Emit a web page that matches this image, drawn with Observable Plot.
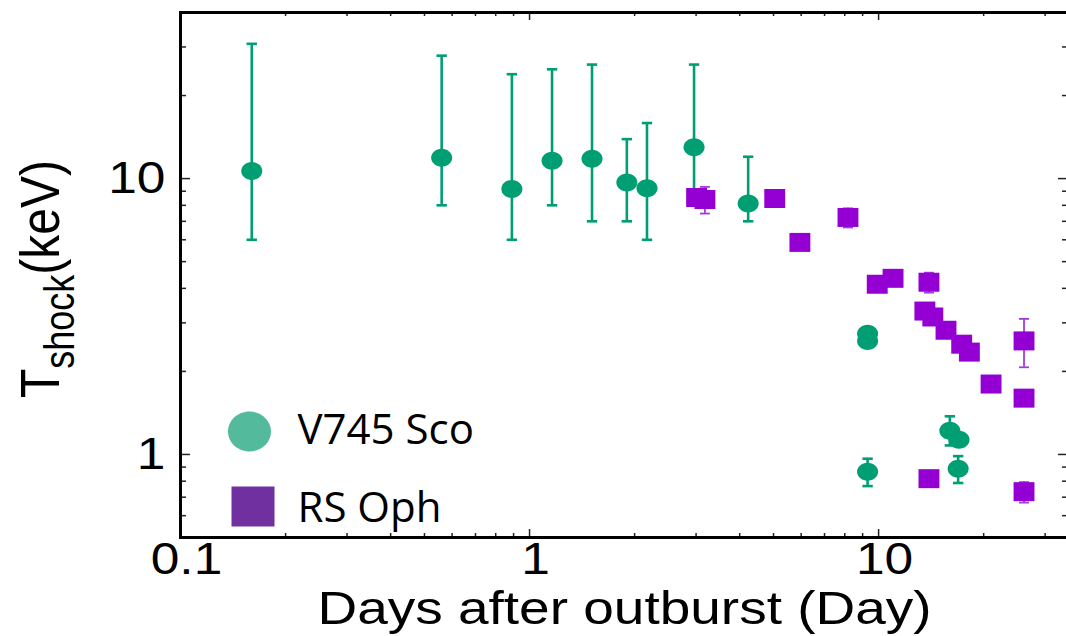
<!DOCTYPE html>
<html><head><meta charset="utf-8">
<script src="https://cdn.jsdelivr.net/npm/d3@7"></script>
<script src="https://cdn.jsdelivr.net/npm/@observablehq/plot@0.6"></script>
<style>html,body{margin:0;padding:0;background:#fff;overflow:hidden}#chart svg{display:block}</style>
</head><body><div id="chart"></div>
<script>
// ---- data ----
const scoDays = [0.16, 0.56, 0.89, 1.16, 1.51, 1.90, 2.17, 2.96, 4.23, 9.3, 9.3, 9.3, 16.0, 17.0, 16.9];
const scoT    = [10.65, 11.9, 9.17, 11.6, 11.8, 9.67, 9.22, 13.0, 8.12, 2.74, 2.58, 0.866, 1.22, 1.13, 0.888];
const scoLo   = [6.0, 8.0, 6.0, 8.0, 7.0, 7.0, 6.0, 8.6, 7.0, null, null, 0.768, 1.078, null, 0.788];
const scoHi   = [30.8, 27.9, 23.9, 24.9, 25.9, 13.9, 15.9, 25.9, 12.0, null, null, 0.965, 1.375, null, 0.986];

const ophDays = [3.01, 3.18, 5.04, 5.95, 8.17, 9.91, 11.0, 13.94, 13.57, 14.3, 15.6, 17.3, 18.2, 21.0, 26.1, 26.1, 13.94, 26.1];
const ophT    = [8.54, 8.40, 8.47, 5.87, 7.23, 4.14, 4.35, 4.21, 3.31, 3.15, 2.82, 2.51, 2.35, 1.80, 2.58, 1.60, 0.817, 0.733];
const ophLo   = [null, 7.47, null, null, 6.65, null, null, 3.86, null, null, null, null, null, null, 2.07, null, null, 0.669];
const ophHi   = [null, 9.33, null, null, 7.8, null, null, 4.56, null, null, null, null, null, null, 3.10, null, null, 0.794];

const seriesNames = ["V745 Sco", "RS Oph"];
const xMajor = [0.1, 1, 10];
const xMinor = [0.2,0.3,0.4,0.5,0.6,0.7,0.8,0.9,2,3,4,5,6,7,8,9,20,30];
const yMajor = [1, 10];
const yMinor = [0.6,0.7,0.8,0.9,2,3,4,5,6,7,8,9,20,30];
const xTitle = "Days after outburst (Day)";
const yTitleMain = "T", yTitleSub = "shock", yTitleUnit = "(keV)";

// ---- styling ----
const green = "#009E73", purple = "#9400D3", purpleErr = "#a13de0";
const legendGreen = "#53BA9B", legendPurple = "#7030A0";
const W = 1066, H = 636, mL = 180, mT = 12, mR = -2, mB = 99;
const plotW = W - mL - mR, plotH = H - mT - mB;
const SX = 1.17; // horizontal stretch of the reference's text

function ellipseSymbol(k){return {draw(ctx,size){const r=Math.sqrt(size/Math.PI),a=r*k,b=r,c=0.5523;
  ctx.moveTo(a,0);ctx.bezierCurveTo(a,c*b,c*a,b,0,b);ctx.bezierCurveTo(-c*a,b,-a,c*b,-a,0);
  ctx.bezierCurveTo(-a,-c*b,-c*a,-b,0,-b);ctx.bezierCurveTo(c*a,-b,a,-c*b,a,0);ctx.closePath();}};}
function rectSymbol(k){return {draw(ctx,size){const r=Math.sqrt(size/Math.PI),a=r*k;ctx.rect(-a,-r,2*a,2*r);}};}
const capSymbol = {draw(ctx,size){const r=Math.sqrt(size/Math.PI);ctx.moveTo(-r,0);ctx.lineTo(r,0);}};

const sco = scoDays.map((d,i)=>({x:d, t:scoT[i], lo:scoLo[i], hi:scoHi[i]}));
const oph = ophDays.map((d,i)=>({x:d, t:ophT[i], lo:ophLo[i], hi:ophHi[i]}));
const scoE = sco.filter(d=>d.lo!=null), ophE = oph.filter(d=>d.lo!=null);

const tickStyle = {stroke:"#222", strokeWidth:1.5};
const chart = Plot.plot({
  width: W, height: H,
  marginLeft: mL, marginTop: mT, marginRight: mR, marginBottom: mB,
  x: {type:"log", domain:[0.1, 35]},
  y: {type:"log", domain:[0.5, 40]},
  style: {background:"#fff", fontFamily:"'Liberation Sans', Arial, sans-serif", color:"#000"},
  marks: [
    // minor / major ticks, all pointing inward on four sides
    Plot.tickX(xMajor, {insetTop: plotH-8, ...tickStyle}),
    Plot.tickX(xMinor, {insetTop: plotH-4, ...tickStyle}),
    Plot.tickX(xMajor, {insetBottom: plotH-8, ...tickStyle}),
    Plot.tickX(xMinor, {insetBottom: plotH-4, ...tickStyle}),
    Plot.tickY(yMajor, {insetRight: plotW-10, ...tickStyle}),
    Plot.tickY(yMinor, {insetRight: plotW-6, ...tickStyle}),
    Plot.tickY(yMajor, {insetLeft: plotW-10, ...tickStyle}),
    Plot.tickY(yMinor, {insetLeft: plotW-6, ...tickStyle}),
    Plot.axisX(xMajor, {tickSize:0, tickPadding:5, fontSize:44, dx:6, label:null, tickFormat:d=>String(d), fill:"#000"}),
    Plot.axisY(yMajor, {tickSize:0, tickPadding:15, fontSize:44, label:null, tickFormat:d=>String(d), fill:"#000"}),
    // V745 Sco
    Plot.ruleX(scoE, {x:"x", y1:"lo", y2:"hi", stroke:green, strokeWidth:2.6}),
    Plot.dot(scoE, {x:"x", y:"lo", symbol:capSymbol, r:5.2, fill:"none", stroke:green, strokeWidth:2.6}),
    Plot.dot(scoE, {x:"x", y:"hi", symbol:capSymbol, r:5.2, fill:"none", stroke:green, strokeWidth:2.6}),
    Plot.dot(sco, {x:"x", y:"t", symbol:ellipseSymbol(1.17), r:9, fill:green}),
    // RS Oph
    Plot.ruleX(ophE, {x:"x", y1:"lo", y2:"hi", stroke:purpleErr, strokeWidth:1.8}),
    Plot.dot(ophE, {x:"x", y:"lo", symbol:capSymbol, r:5, fill:"none", stroke:purpleErr, strokeWidth:1.8}),
    Plot.dot(ophE, {x:"x", y:"hi", symbol:capSymbol, r:5, fill:"none", stroke:purpleErr, strokeWidth:1.8}),
    Plot.dot(oph, {x:"x", y:"t", symbol:rectSymbol(1.1), r:9.5, fill:purple}),
    // frame
    Plot.frame({stroke:"#000", strokeWidth:3}),
    // legend
    Plot.dot([seriesNames[0]], {frameAnchor:"bottom-left", dx:69, dy:-106, symbol:ellipseSymbol(1.075), r:20, fill:legendGreen}),
    Plot.dot([seriesNames[1]], {frameAnchor:"bottom-left", dx:72.5, dy:-31, symbol:rectSymbol(1.075), r:20, fill:legendPurple}),
    Plot.text([seriesNames[0]], {frameAnchor:"bottom-left", dx:117, dy:-94, text:d=>d, textAnchor:"start", lineAnchor:"bottom", fontFamily:"Open Sans", fontSize:42, fill:"#000"}),
    Plot.text([seriesNames[1]], {frameAnchor:"bottom-left", dx:117, dy:-16, text:d=>d, textAnchor:"start", lineAnchor:"bottom", fontFamily:"Open Sans", fontSize:42, fill:"#000"}),
    // axis titles
    Plot.text([xTitle], {frameAnchor:"bottom", dy:53, text:d=>d, lineAnchor:"top", fontSize:47, fill:"#000"}),
    Plot.text([yTitleMain + yTitleSub + yTitleUnit], {frameAnchor:"left", dx:-122, dy:4, text:d=>d, rotate:-90, textAnchor:"middle", lineAnchor:"bottom", fontSize:48, fill:"#000"})
  ]
});
document.getElementById("chart").appendChild(chart);

// stretch Helvetica-like texts horizontally as in the reference; build the subscripted y title
chart.querySelectorAll("text").forEach(t => {
  const famEl = t.closest("[font-family]");
  if (famEl && famEl.getAttribute("font-family") === "Open Sans") return;
  const tr = t.getAttribute("transform") || "translate(0,0)";
  t.setAttribute("transform", tr.replace(/(translate\([^)]*\))/, `$1 scale(${SX},1)`));
  if (t.textContent === yTitleMain + yTitleSub + yTitleUnit) {
    t.textContent = "";
    const ns = "http://www.w3.org/2000/svg";
    const a = document.createElementNS(ns, "tspan"); a.textContent = yTitleMain;
    const b = document.createElementNS(ns, "tspan"); b.textContent = yTitleSub; b.setAttribute("font-size", "36"); b.setAttribute("dy", "13");
    const c = document.createElementNS(ns, "tspan"); c.textContent = yTitleUnit; c.setAttribute("dy", "-13");
    t.append(a, b, c);
  }
});
</script></body></html>
